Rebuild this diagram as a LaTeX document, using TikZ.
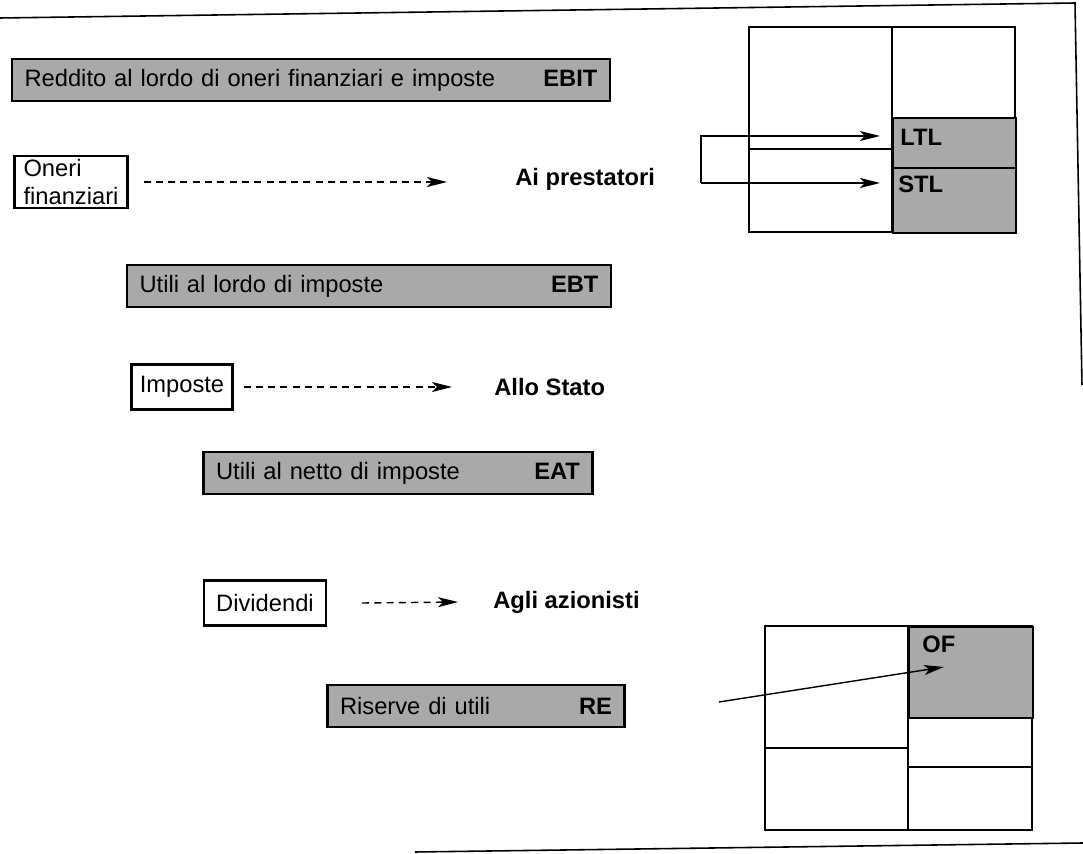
\documentclass[tikz,border=0pt]{standalone}
\usepackage{fontspec}
\setsansfont{Liberation Sans}
\usetikzlibrary{arrows.meta, positioning, calc}
\definecolor{halftone}{HTML}{A9A9A9}
\newcommand{\farright}{\hskip 0pt plus 1filll}

\begin{document}
\begin{tikzpicture}[x=0.02cm, y=-0.02cm, font=\sffamily\fontsize{13.5}{16}\selectfont,
    sumbar/.style={draw, line width=1.3pt, fill=halftone, minimum height=0.84cm,
      inner xsep=0.25cm, align=left},
    itembox/.style={draw, line width=1.2pt, inner sep=0pt, align=left,
      minimum height=0.9cm},
    dest/.style={font=\sffamily\bfseries\fontsize{13.5}{16}\selectfont, anchor=west,
      inner sep=0pt},
    payout/.style={dash pattern=on 4pt off 3pt, line width=0.8pt,
      -{Stealth[length=0.4cm, width=0.2cm, inset=0.1cm]}},
    linkarrow/.style={line width=0.8pt,
      -{Stealth[length=0.4cm, width=0.2cm, inset=0.1cm]}},
    sheet/.style={line width=1.1pt},
    debtcell/.style={draw, line width=1.1pt, fill=halftone, inner sep=0pt},
    celltext/.style={font=\sffamily\bfseries\fontsize{13.5}{16}\selectfont,
      anchor=north west, inner sep=0pt}]
    \useasboundingbox (0,0) rectangle (1083,854);

    % Page edges of the scan
    \draw[line width=0.9pt] (0,18) -- (1075,3) -- (1082,385);
    \draw[line width=0.9pt] (415,852) -- (1083,843);

    % Income statement bars
    \node[sumbar, text width=11.46cm] (ebit) at (311,80)
      {Reddito al lordo di oneri finanziari e imposte\farright\textbf{EBIT}\hspace{0.25cm}};
    \node[sumbar, text width=9.18cm] (ebt) at (369,286)
      {Utili al lordo di imposte\farright\textbf{EBT}};
    \node[sumbar, text width=7.28cm] (eat) at (398,473)
      {Utili al netto di imposte\farright\textbf{EAT}};
    \node[sumbar, text width=5.44cm] (re) at (476,706)
      {Riserve di utili\farright\textbf{RE}};

    % Outflows and where they go
    \node[itembox, minimum width=2.26cm, minimum height=1.04cm] (oneri) at (71,182)
      {Oneri\\finanziari};
    \node[dest] (prest) at (515,179) {Ai prestatori};
    \draw[payout] ([xshift=0.3cm]oneri.east) -- ([xshift=-1.36cm]oneri.east -| prest.west);

    \node[itembox, minimum width=2.02cm] (imposte) at (182,387) {Imposte};
    \node[dest] (stato) at (494,387) {Allo Stato};
    \draw[payout] ([xshift=0.2cm]imposte.east) -- ([xshift=-0.84cm]stato.west);

    \node[itembox, minimum width=2.44cm] (divid) at (265,603) {Dividendi};
    \node[dest] (azion) at (493,602) {Agli azionisti};
    \draw[payout] ([xshift=0.7cm]divid.east) -- ([xshift=-0.7cm]azion.west);

    % Balance sheet (top): debt side
    \draw[sheet] (749,27) rectangle (1015,232);
    \draw[sheet] (892,27) -- (892,232);
    \draw[sheet] (749,149) -- (892,149);
    \node[debtcell, minimum width=2.46cm, minimum height=1cm, anchor=north west]
      (ltl) at (892,117) {};
    \node[debtcell, minimum width=2.46cm, minimum height=1.3cm, anchor=north west]
      (stl) at (892,167) {};
    \node[celltext] (ltltxt) at (900,129) {LTL};
    \node[celltext] (stltxt) at (898,176) {STL};
    \coordinate (forka) at (701,136);
    \coordinate (forkb) at (701,183);
    \draw[linkarrow, shorten >=0.24cm] (forkb) -- (forka) -- (forka -| ltl.west);
    \draw[linkarrow, shorten >=0.24cm] (forkb) -- (forkb -| stl.west);

    % Balance sheet (bottom): retained earnings
    \draw[sheet] (765,626) rectangle (1032,830);
    \draw[sheet] (908,626) -- (908,830);
    \draw[sheet] (765,748) -- (908,748);
    \draw[sheet] (908,767) -- (1032,767);
    \node[debtcell, minimum width=2.48cm, minimum height=1.82cm, anchor=north west]
      (of) at (908,626) {};
    \node[celltext] (oftxt) at (922,636) {OF};
    \coordinate (retail) at (719,702);
    \draw[linkarrow] (retail) -- ([xshift=-0.54cm, yshift=0.11cm]of.center);
\end{tikzpicture}
\end{document}
